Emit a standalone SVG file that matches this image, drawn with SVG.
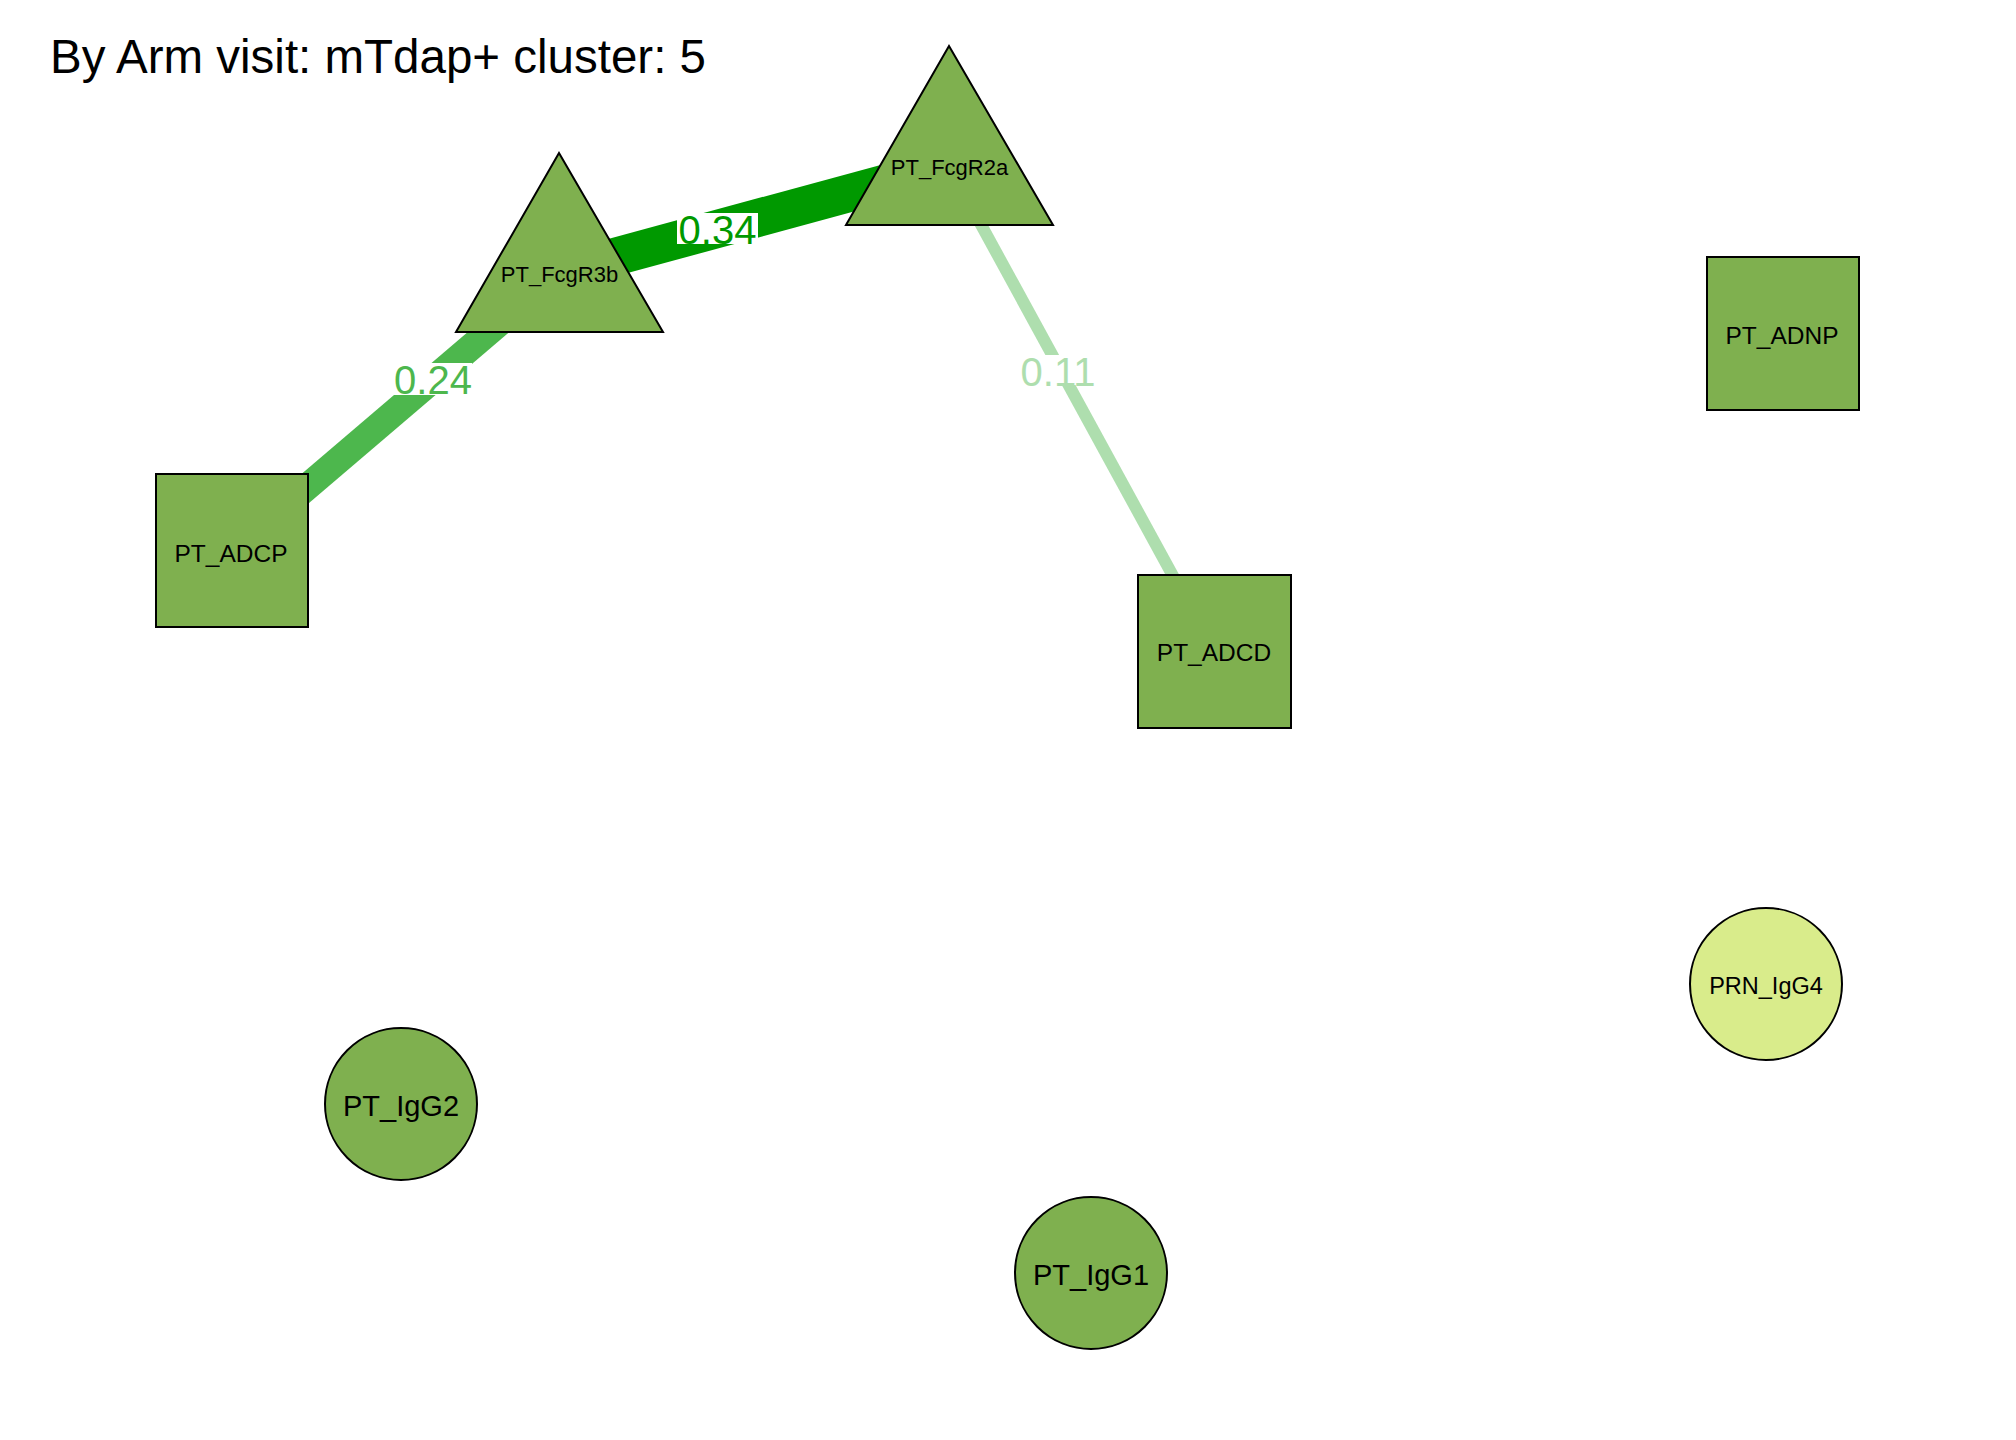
<svg xmlns="http://www.w3.org/2000/svg" width="2016" height="1440" viewBox="0 0 2016 1440">
<style>
  text { font-family: "Liberation Sans", Arial, sans-serif; }
  .node { fill: #7FB04F; stroke: #000; stroke-width: 2; }
  .node.light { fill: #D9EC8B; }
  .nl { fill: #000; text-anchor: middle; }
  .el { text-anchor: middle; font-size: 40px; }
  .edge { fill: none; stroke-linecap: butt; }
  .bg { fill: #fff; }
</style>
<rect x="0" y="0" width="2016" height="1440" fill="#fff"/>
<text x="50" y="73" font-size="47.5" fill="#000">By Arm visit: mTdap+ cluster: 5</text>
<g id="connectors">
  <line class="edge" x1="232" y1="551" x2="559" y2="272" stroke="#4DB74D" stroke-width="27"/>
  <line class="edge" x1="559" y1="272" x2="949" y2="166" stroke="#009900" stroke-width="38"/>
  <line class="edge" x1="949" y1="166" x2="1214" y2="651" stroke="#AEDEAE" stroke-width="12"/>
  <rect class="bg" x="677" y="213" width="81" height="31"/>
  <text class="el" x="717.5" y="244" fill="#009900">0.34</text>
  <rect class="bg" x="393" y="363" width="79" height="32"/>
  <text class="el" x="433" y="394" fill="#4DB74D">0.24</text>
  <rect class="bg" x="1021" y="355" width="75" height="30"/>
  <text class="el" x="1058" y="386" fill="#AEDEAE">0.11</text>
</g>
<g id="PT_FcgR2a">
  <polygon class="node" points="949,46 1053,225 846,225"/>
  <text class="nl" x="949.5" y="175" font-size="22">PT_FcgR2a</text>
</g>
<g id="PT_FcgR3b">
  <polygon class="node" points="559,153 663,332 456,332"/>
  <text class="nl" x="559.5" y="282" font-size="22">PT_FcgR3b</text>
</g>
<g id="PT_ADCP">
  <rect class="node" x="156" y="474" width="152" height="153"/>
  <text class="nl" x="231" y="562" font-size="24.5">PT_ADCP</text>
</g>
<g id="PT_ADNP">
  <rect class="node" x="1707" y="257" width="152" height="153"/>
  <text class="nl" x="1782" y="344" font-size="24.5">PT_ADNP</text>
</g>
<g id="PT_ADCD">
  <rect class="node" x="1138" y="575" width="153" height="153"/>
  <text class="nl" x="1214" y="661" font-size="24.5">PT_ADCD</text>
</g>
<g id="PRN_IgG4">
  <circle class="node light" cx="1766" cy="984" r="76"/>
  <text class="nl" x="1766" y="994" font-size="23.5">PRN_IgG4</text>
</g>
<g id="PT_IgG2">
  <circle class="node" cx="401" cy="1104" r="76"/>
  <text class="nl" x="401" y="1116" font-size="29">PT_IgG2</text>
</g>
<g id="PT_IgG1">
  <circle class="node" cx="1091" cy="1273" r="76"/>
  <text class="nl" x="1091" y="1285" font-size="29">PT_IgG1</text>
</g>
</svg>
